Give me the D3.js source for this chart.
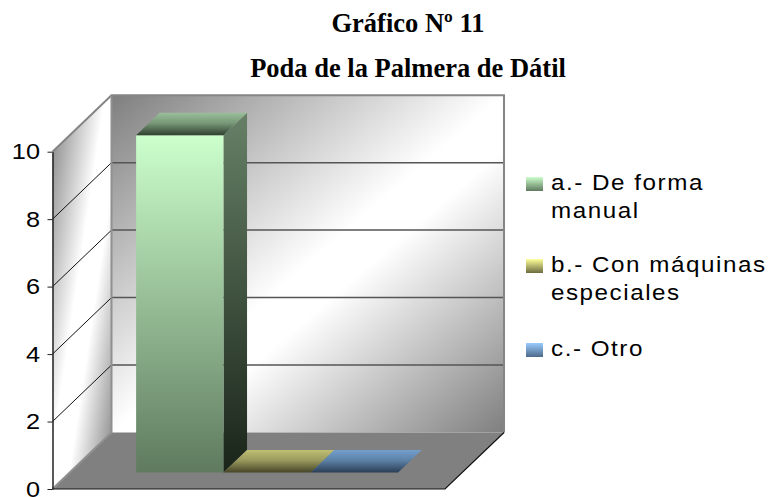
<!DOCTYPE html>
<html><head><meta charset="utf-8">
<style>html,body{margin:0;padding:0;background:#fff}svg{display:block}</style>
<script src="https://cdn.jsdelivr.net/npm/d3@7"></script></head>
<body><svg id="c" width="772" height="497"></svg>
<script>
const titles = ["Gráfico Nº 11", "Poda de la Palmera de Dátil"];
const series = ["a", "b", "c"];
const values = [10, 0, 0];
const legendLines = [["a.- De forma", "manual"], ["b.- Con máquinas", "especiales"], ["c.- Otro"]];
const yTicks = [0, 2, 4, 6, 8, 10];
const lightColors = ["#ccffcc", "#ffff99", "#99ccff"];
const frontBottom = ["#5f7a5f", "#6b6b40", "#4d6a88"];
const sideTop = ["#668066", "#666640", "#4d6680"];
const sideBottom = ["#1a241a", "#24241a", "#1a2430"];
const topBack = ["#99bf99", "#bfbf73", "#739fcc"];
const topFront = ["#2f3f2f", "#454528", "#2a3d55"];

const svg = d3.select("#c"), defs = svg.append("defs");
const left = 52.5, right = 445;
const x = d3.scaleBand().domain(series).range([53.5, 446.5]).paddingInner(0).paddingOuter(0.75);
const y = d3.scaleLinear().domain([0, 10]).range([489, 151.7]);
const zx = d3.scaleLinear().domain([0, 1]).range([0, 59]);
const zy = d3.scaleLinear().domain([0, 1]).range([0, -56.5]);
const P = (px, v, z) => [px + zx(z), y(v) + zy(z)];
const line = pts => "M" + pts.map(p => p.join(",")).join("L") + "Z";
const barZ = [0.29, 0.69];

function grad(id, stops, c) {
  const g = defs.append("linearGradient").attr("id", id)
    .attr("x1", c[0]).attr("y1", c[1]).attr("x2", c[2]).attr("y2", c[3]);
  stops.forEach(s => g.append("stop").attr("offset", s[0]).attr("stop-color", s[1]));
}
grad("wall", [[0, "#7f7f7f"], [0.5, "#ffffff"], [0.58, "#ffffff"], [1, "#7f7f7f"]], [0, 0, 1, 1]);
grad("lwall", [[0, "#7f7f7f"], [0.45, "#ffffff"], [0.62, "#ffffff"], [1, "#7f7f7f"]], [0, 0, 1, 1]);
series.forEach((s, i) => {
  grad("f" + i, [[0, lightColors[i]], [1, frontBottom[i]]], [0, 0, 0, 1]);
  grad("s" + i, [[0, sideTop[i]], [1, sideBottom[i]]], [0, 0, 0, 1]);
  grad("t" + i, [[0, topBack[i]], [0.45, d3.interpolateRgb(topBack[i], topFront[i])(0.3)], [1, topFront[i]]], [0, 0, 0, 1]);
});

svg.append("path").attr("fill", "url(#wall)")
  .attr("d", line([P(left, 10, 1), P(right, 10, 1), P(right, 0, 1), P(left, 0, 1)]));
svg.append("path").attr("fill", "url(#lwall)")
  .attr("d", line([P(left, 10, 0), P(left, 10, 1), P(left, 0, 1), P(left, 0, 0)]));
svg.append("path").attr("fill", "#808080")
  .attr("d", line([P(left, 0, 0), P(left, 0, 1), P(right, 0, 1), P(right, 0, 0)]));

yTicks.filter(t => t > 0 && t < 10).forEach(t => {
  svg.append("path").attr("fill", "none").attr("stroke", "#555").attr("stroke-width", 1.5)
    .attr("d", "M" + P(left, t, 1) + "L" + P(right, t, 1));
  svg.append("path").attr("fill", "none").attr("stroke", "#111").attr("stroke-width", 1)
    .attr("d", "M" + P(left, t, 0) + "L" + P(left, t, 1));
});
svg.append("path").attr("fill", "none").attr("stroke", "#858585").attr("stroke-width", 2)
  .attr("d", "M" + P(left, 10, 0) + "L" + P(left, 10, 1) + "L" + P(right, 10, 1) + "L" + P(right, 0, 1));
svg.append("path").attr("fill", "none").attr("stroke", "#909090").attr("stroke-width", 2)
  .attr("d", "M" + P(left, 10, 1) + "L" + P(left, 0, 1) + "L" + P(left, 0, 0));
svg.append("path").attr("fill", "none").attr("stroke", "#111").attr("stroke-width", 1.2)
  .attr("d", "M" + P(left, 0, 0) + "L" + P(right, 0, 0) + "L" + P(right, 0, 1));

series.forEach((s, i) => {
  const a = x(s), b = a + x.bandwidth(), v = values[i], [z0, z1] = barZ;
  const g = svg.append("g");
  if (v > 0) {
    g.append("path").attr("fill", `url(#s${i})`)
      .attr("d", line([P(b, v, z0), P(b, v, z1), P(b, 0, z1), P(b, 0, z0)]));
    g.append("path").attr("fill", `url(#f${i})`)
      .attr("d", line([P(a, v, z0), P(b, v, z0), P(b, 0, z0), P(a, 0, z0)]));
  }
  g.append("path").attr("fill", `url(#t${i})`)
    .attr("d", line([P(a, v, z0), P(a, v, z1), P(b, v, z1), P(b, v, z0)]));
});

const axis = d3.axisLeft(y).tickValues(yTicks).tickSize(5).tickSizeOuter(0).tickFormat("");
const ag = svg.append("g").attr("transform", `translate(${left},0)`).call(axis);
ag.select(".domain").attr("stroke", "#222").attr("stroke-width", 1.5);
ag.selectAll(".tick line").attr("stroke", "#222");
yTicks.forEach(t => svg.append("text").text(t)
  .attr("text-anchor", "end")
  .attr("transform", `translate(40,${y(t) + 7.5}) scale(1.15,1)`)
  .attr("font-family", "Liberation Sans").attr("font-size", 22).attr("fill", "#000"));

titles.forEach((t, i) => svg.append("text").text(t)
  .attr("x", 408).attr("y", 32 + i * 45).attr("text-anchor", "middle")
  .attr("font-family", "Liberation Serif").attr("font-weight", "bold").attr("font-size", 26.5).attr("fill", "#000"));

const legendSwatchY = [177, 259, 343];
series.forEach((s, i) => {
  svg.append("rect").attr("x", 526).attr("y", legendSwatchY[i]).attr("width", 17).attr("height", 14)
    .attr("fill", `url(#f${i})`);
  legendLines[i].forEach((l, j) => svg.append("text").text(l)
    .attr("transform", `translate(551,${legendSwatchY[i] + 13 + j * 27.5}) scale(1.1,1)`)
    .attr("font-family", "Liberation Sans").attr("font-size", 22).attr("letter-spacing", 1.4).attr("fill", "#000"));
});
</script></body></html>
